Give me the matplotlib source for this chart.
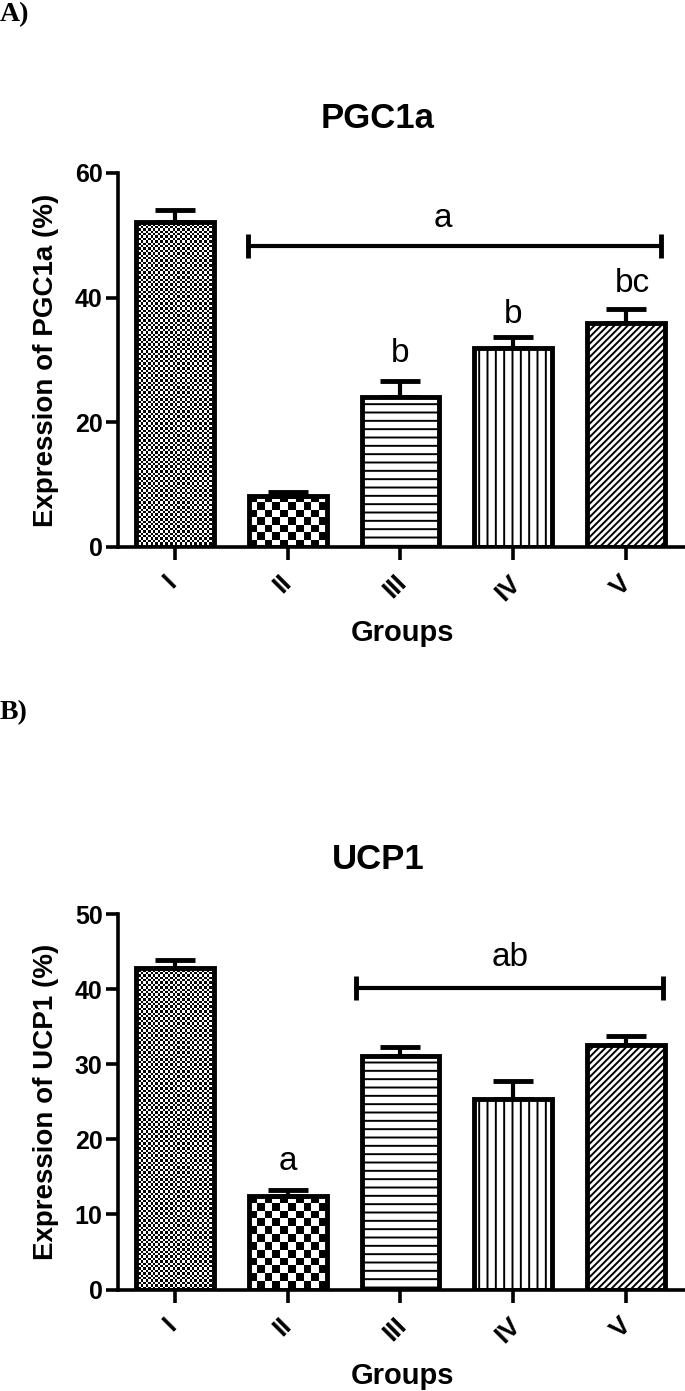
import numpy as np
import matplotlib
matplotlib.use("Agg")
import matplotlib.pyplot as plt
import matplotlib.transforms as mtransforms

plt.rcParams['font.family'] = ['Liberation Sans', 'DejaVu Sans']
plt.rcParams['hatch.linewidth'] = 1.4

groups = ["I", "II", "III", "IV", "V"]

# panel A - PGC1a
pgc_mean = [52.2, 8.2, 24.0, 31.9, 35.9]
pgc_err = [1.9, 0.7, 2.7, 1.8, 2.3]
pgc_letters = [("b", 2.0, 29.7), ("b", 3.0, 36.0), ("bc", 4.06, 40.9)]
pgc_bracket = ([0.65, 4.31], 48.3, "a", 2.38, 51.4)

# panel B - UCP1
ucp_mean = [42.8, 12.4, 31.1, 25.3, 32.5]
ucp_err = [1.1, 0.9, 1.2, 2.4, 1.2]
ucp_letters = [("a", 1.0, 15.9)]
ucp_bracket = ([1.61, 4.33], 40.2, "ab", 2.97, 43.1)

W, H = 685, 1391
fig = plt.figure(figsize=(W / 100, H / 100), dpi=100)

# fill styles for bars: (checker cell px) or hatch
fills = [("check", 2.4), ("check", 7.6), ("hatch", "--"), ("hatch", "||"), ("hatch", "/////")]


def checker(ax, bar, cell_px):
    x0, y0 = bar.get_x(), bar.get_y()
    w, h = bar.get_width(), bar.get_height()
    (px0, py0), (px1, py1) = ax.transData.transform([(x0, y0), (x0 + w, y0 + h)])
    nx = max(1, int(round((px1 - px0) / cell_px)))
    ny = max(1, int(round((py1 - py0) / cell_px)))
    pat = np.add.outer(np.arange(ny), np.arange(nx)) % 2
    ax.imshow(pat, cmap="gray", extent=(x0, x0 + w, y0, y0 + h), aspect="auto",
              interpolation="nearest", zorder=1.5)


def panel(top_px, bot_px, ymax, step, means, errs, letters, bracket, title, ylabel, tag, tag_px):
    left_px = 118
    ax = fig.add_axes([left_px / W, 1 - bot_px / H, (W - left_px) / W, (bot_px - top_px) / H])
    ppu = 112.7
    x = np.arange(len(groups))
    ax.set_xlim(-0.506, -0.506 + (W - left_px) / ppu)
    ax.set_ylim(0, ymax)

    bars = ax.bar(x, means, width=0.69, facecolor="none", edgecolor="black", linewidth=3.5, zorder=2)
    for b, (kind, val) in zip(bars, fills):
        if kind == "check":
            checker(ax, b, val)
        else:
            b.set_facecolor("white")
            b.set_hatch(val)
    ax.set_xlim(-0.506, -0.506 + (W - left_px) / ppu)
    ax.set_ylim(0, ymax)

    ax.errorbar(x, means, yerr=[np.zeros(len(means)), errs], fmt="none", ecolor="black",
                elinewidth=3, capsize=14.5, capthick=3.5, zorder=1.8)

    xs, yb, btxt, bx, by = bracket
    ax.plot(xs, [yb, yb], color="black", lw=3, marker="|", ms=17, mew=3.5,
            solid_capstyle="round", clip_on=False)
    ax.text(bx, by, btxt, ha="center", va="baseline", fontsize=24)
    for t, lx, ly in letters:
        ax.text(lx, ly, t, ha="center", va="baseline", fontsize=24)

    for s in ["top", "right"]:
        ax.spines[s].set_visible(False)
    for s in ["left", "bottom"]:
        ax.spines[s].set_linewidth(2.6)

    ax.set_yticks(np.arange(0, ymax + 1, step))
    ax.tick_params(axis="y", direction="out", length=9, width=2.6, labelsize=18, pad=2)
    ax.tick_params(axis="x", direction="out", length=9, width=2.6, labelsize=19, pad=8)
    for lbl in ax.get_yticklabels():
        lbl.set_fontweight("bold")
    ax.set_xticks(x)
    ax.set_xticklabels(groups, rotation=45, ha="center", va="top", fontweight="bold")
    off = mtransforms.ScaledTranslation(-5 / 100, 0, fig.dpi_scale_trans)
    for lbl in ax.get_xticklabels():
        lbl.set_transform(lbl.get_transform() + off)

    mid = (top_px + bot_px) / 2
    fig.text(46 / W, 1 - mid / H, ylabel, rotation=90, ha="center", va="center",
             fontsize=20, fontweight="bold")
    fig.text(402 / W, 1 - (bot_px + 94) / H, "Groups", ha="center", va="baseline",
             fontsize=21, fontweight="bold")
    fig.text(378 / W, 1 - (top_px - 45) / H, title, ha="center", va="baseline",
             fontsize=25, fontweight="bold")
    fig.text(0.0, 1 - tag_px / H, tag, ha="left", va="top", fontsize=20,
             fontweight="bold", family="Liberation Serif")
    return ax


panel(173, 547, 60, 20, pgc_mean, pgc_err, pgc_letters, pgc_bracket,
      "PGC1a", "Expression of PGC1a (%)", "A)", 2)
panel(914, 1289.5, 50, 10, ucp_mean, ucp_err, ucp_letters, ucp_bracket,
      "UCP1", "Expression of UCP1 (%)", "B)", 700)

fig.savefig("out.png", dpi=100)
